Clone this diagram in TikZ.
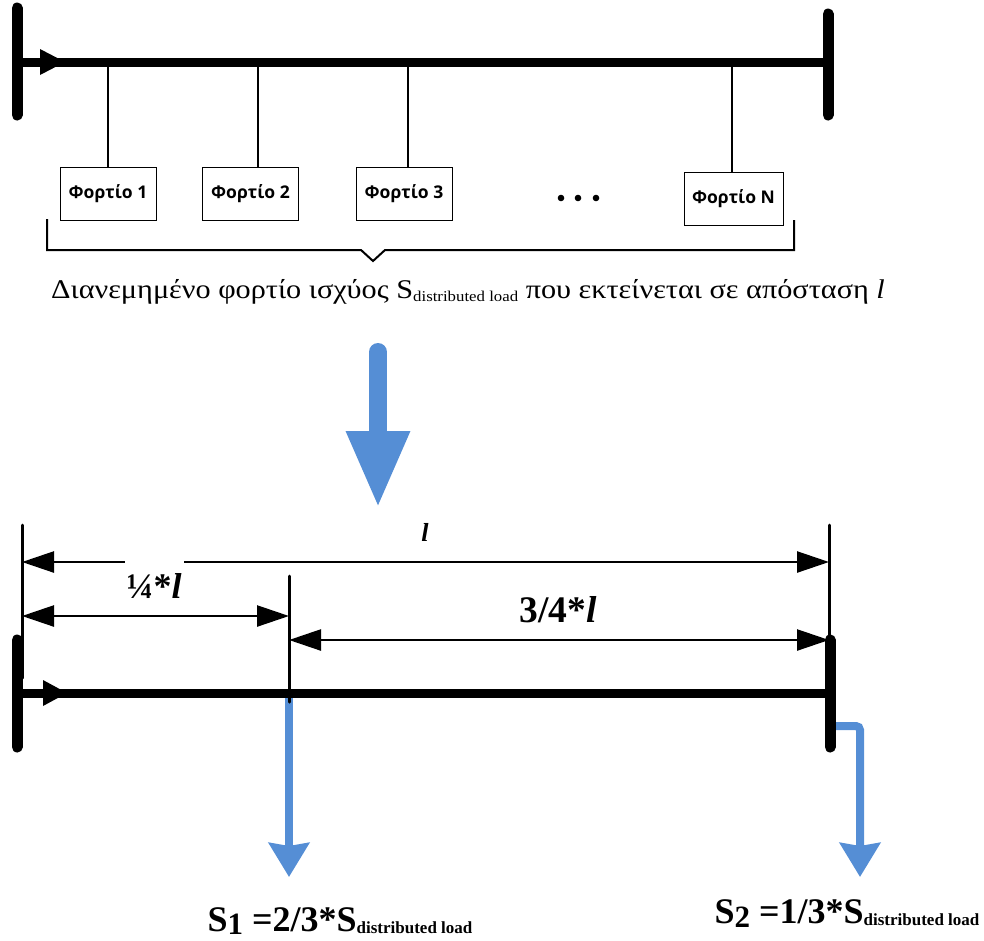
\documentclass[tikz,border=0pt]{standalone}
\usepackage{fontspec}
\setmainfont{Liberation Serif}
\newfontfamily\loadfont{Open Sans}
\newfontfamily\captionfont[FakeStretch=1.12]{Liberation Serif}
\usetikzlibrary{arrows.meta}
\definecolor{flowblue}{RGB}{85,142,213}
\newcommand{\lowsub}[3]{\raisebox{#1}{\fontsize{#2}{#2}\selectfont #3}}
\tikzset{
  busline/.style={line width=9pt},
  busbar/.style={line width=11pt, line cap=round},
  tap/.style={line width=2pt},
  loadbox/.style={draw, line width=1pt, minimum width=96pt, minimum height=53pt,
    inner sep=0pt, font=\loadfont\bfseries\fontsize{17.5}{17.5}\selectfont},
  brace/.style={line width=2pt},
  extline/.style={line width=3pt, line cap=round},
  dimline/.style={line width=2.5pt, {Triangle[length=32pt,width=21pt]}-{Triangle[length=32pt,width=21pt]}},
  feeder/.style={flowblue, line width=8pt, -{Stealth[length=34pt,width=40pt,inset=3pt]}},
  dimlabel/.style={inner sep=0pt, font=\bfseries}
}
\begin{document}
\begin{tikzpicture}[x=1pt,y=-1pt]
\useasboundingbox (0,0) rectangle (984,940);

% ---------- upper feeder with N discrete loads ----------
\coordinate (topL) at (17,62);
\coordinate (topR) at (828,62);
\draw[busline] (topL) -- (topR);
\draw[busbar] (17,8) -- (17,115);
\draw[busbar] (828,14) -- (828,115);
\fill (40,49) -- (65,62) -- (40,75) -- cycle;

\node[loadbox] (load1) at (108,194) {Φορτίο 1};
\node[loadbox] (load2) at (250.5,194) {Φορτίο 2};
\node[loadbox] (load3) at (404,194) {Φορτίο 3};
\node[loadbox, minimum width=99pt] (loadN) at (733.5,198.5) {Φορτίο N};
\coordinate (tap1) at (108,62);
\coordinate (tap2) at (258,62);
\coordinate (tap3) at (407.5,62);
\coordinate (tapN) at (732,62);
\foreach \n in {1,2,3,N}{
  \draw[tap] (tap\n) -- (tap\n |- load\n.north);
}
\foreach \x in {561,578,596}{ \fill (\x,198) circle (3.3pt); }

\draw[brace] (47,219) -- (47,250) -- (361,250) -- (373,261) -- (385,250) -- (794,250) -- (794,220);

\node[inner sep=0pt, font=\captionfont\fontsize{27}{27}\selectfont] (caption) at (468,292)
  {Διανεμημένο φορτίο ισχύος S\lowsub{-3pt}{15}{distributed load} που εκτείνεται σε απόσταση \textit{l}};

% ---------- transformation arrow ----------
\coordinate (bigtop) at (378,352);
\coordinate (bigtip) at (378,508);
\draw[flowblue, line width=18pt, line cap=round, -{Triangle[length=77pt,width=59pt]}] (bigtop) -- (bigtip);

% ---------- equivalent feeder with two lumped loads ----------
\coordinate (botL) at (17,693);
\coordinate (botR) at (830,693);
\coordinate (tapA) at (289,693);

\draw[feeder] (tapA) -- (289,877) coordinate (s1tip);
\draw[feeder, rounded corners=4pt] (830,726) -- (860,726) -- (860,877) coordinate (s2tip);

\draw[busline] (botL) -- (botR);
\draw[busbar] (17,640) -- (17,747);
\draw[busbar] (830,640) -- (830,747);
\fill (43,680) -- (67,693) -- (43,706) -- cycle;

\coordinate (extL) at (22,525);
\coordinate (extM) at (289,576);
\coordinate (extR) at (829,525);
\draw[extline] (extL) -- (22,678);
\draw[extline] (extM) -- (289,702);
\draw[extline] (extR) -- (829,640);

\draw[dimline] (extL |- 0,562) -- (extR |- 0,562);
\draw[dimline] (extL |- 0,616) -- (extM |- 0,616);
\draw[dimline] (extM |- 0,640) -- (extR |- 0,640);

\node[dimlabel, font=\bfseries\fontsize{26}{26}\selectfont] (lenAll) at (425,532) {\textit{l}};
\node[dimlabel, anchor=base, fill=white, inner xsep=2pt, inner ysep=0pt,
  text height=38pt, font=\bfseries\fontsize{36}{36}\selectfont] (lenQ) at (154,598) {¼*\textit{l}};
\node[dimlabel, anchor=base, font=\bfseries\fontsize{37.5}{37.5}\selectfont] (lenTQ) at (558,622) {3/4*\textit{l}};

\node[dimlabel, anchor=base, font=\bfseries\fontsize{36}{36}\selectfont] (s1) at (340,931)
  {S\lowsub{-3pt}{31}{1} =2/3*S\lowsub{-2pt}{17}{distributed load}};
\node[dimlabel, anchor=base, font=\bfseries\fontsize{36}{36}\selectfont] (s2) at (847,923)
  {S\lowsub{-4pt}{31}{2} =1/3*S\lowsub{-2pt}{17}{distributed load}};
\end{tikzpicture}
\end{document}
